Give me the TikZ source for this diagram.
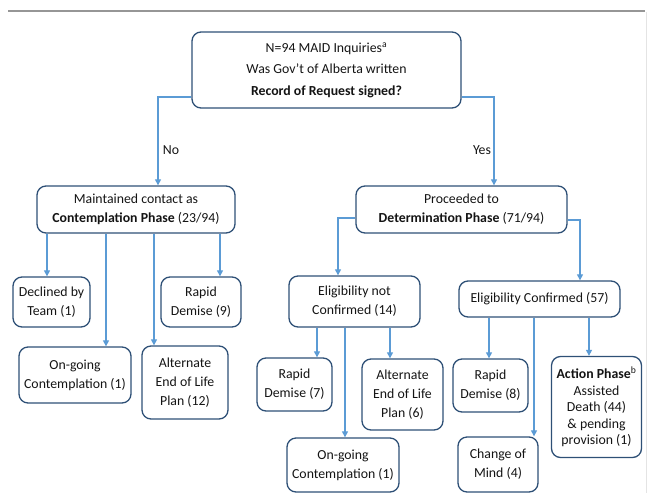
\documentclass[tikz,border=0pt]{standalone}
\usepackage{fontspec}
\setmainfont{Carlito}
\usetikzlibrary{arrows.meta}
\definecolor{boxc}{RGB}{46,80,118}
\definecolor{lnc}{RGB}{91,155,213}
\definecolor{txt}{RGB}{20,20,20}
\definecolor{rulec}{RGB}{150,150,150}
\definecolor{edgec}{RGB}{228,228,228}
\tikzset{
  box/.style={draw=boxc, line width=1.3pt, rounded corners=9pt, align=center, inner sep=0pt,
    text=txt, font=\fontsize{13.8}{19}\selectfont},
  conn/.style={draw=lnc, line width=1.1pt, -{Triangle[length=6pt,width=6pt]}},
  lab/.style={text=txt, font=\fontsize{13.8}{15}\selectfont, inner sep=0pt}
}
\begin{document}
\begin{tikzpicture}[x=1pt,y=-1pt]
\useasboundingbox (0,0) rectangle (650,493);
\draw[rulec, line width=2.5pt] (8,11) -- (645,11);
\draw[edgec, line width=0.8pt] (646,12) -- (646,493);

\node[box, minimum width=269pt, minimum height=76pt, font=\fontsize{13.8}{21.5}\selectfont] (top) at (326.5,70)
  {N=94 MAID Inquiries\textsuperscript{a}\\ Was Gov’t of Alberta written\\ \textbf{Record of Request signed?}};
\node[box, minimum width=198pt, minimum height=47pt] (cont) at (136,209.5)
  {Maintained contact as\\ \textbf{Contemplation Phase} (23/94)};
\node[box, minimum width=211pt, minimum height=47pt] (det) at (461.5,209.5)
  {Proceeded to\\ \textbf{Determination Phase} (71/94)};

\node[box, minimum width=77pt, minimum height=50pt] (decl) at (51.5,302) {Declined by\\ Team (1)};
\node[box, minimum width=80pt, minimum height=50pt] (rd9) at (201,302) {Rapid\\ Demise (9)};
\node[box, minimum width=112pt, minimum height=56pt] (og1) at (75,375) {On-going\\ Contemplation (1)};
\node[box, minimum width=86pt, minimum height=73pt] (alt12) at (185,382.5) {Alternate\\ End of Life\\ Plan (12)};

\node[box, minimum width=131pt, minimum height=51pt] (enc) at (354.5,301.5) {Eligibility not\\ Confirmed (14)};
\node[box, minimum width=161pt, minimum height=36pt] (ec) at (539.5,299) {Eligibility Confirmed (57)};

\node[box, minimum width=75pt, minimum height=53pt] (rd7) at (294.5,384.5) {Rapid\\ Demise (7)};
\node[box, minimum width=81pt, minimum height=71pt] (alt6) at (402.5,394.5) {Alternate\\ End of Life\\ Plan (6)};
\node[box, minimum width=112pt, minimum height=54pt] (og2) at (343,465) {On-going\\ Contemplation (1)};
\node[box, minimum width=75pt, minimum height=53pt] (rd8) at (490.5,385.5) {Rapid\\ Demise (8)};
\node[box, minimum width=80pt, minimum height=55pt] (cm) at (498,464.5) {Change of\\ Mind (4)};
\node[box, minimum width=90pt, minimum height=101pt, font=\fontsize{13.8}{16.5}\selectfont] (act) at (596.5,407)
  {\textbf{Action Phase}\textsuperscript{b}\\ Assisted\\ Death (44)\\ \& pending\\ provision (1)};

\coordinate (ly) at (0,97);
\draw[conn] (top.west |- ly) -| (cont.north -| 158,0);
\draw[conn] (top.east |- ly) -| (det.north -| 494,0);
\node[lab] (no) at (171,150) {No};
\node[lab] (yes) at (482,150) {Yes};

\draw[conn] (cont.south -| 47,0) -- (decl.north -| 47,0);
\draw[conn] (cont.south -| 106,0) -- (og1.north -| 106,0);
\draw[conn] (cont.south -| 154,0) -- (alt12.north -| 154,0);
\draw[conn] (cont.south -| 220,0) -- (rd9.north -| 220,0);

\draw[conn] (det.west |- 0,218) -| (enc.north -| 338,0);
\draw[conn] (det.east |- 0,220) -| (ec.north -| 580,0);

\draw[conn] (enc.south -| 317,0) -- (rd7.north -| 317,0);
\draw[conn] (enc.south -| 345,0) -- (og2.north -| 345,0);
\draw[conn] (enc.south -| 390,0) -- (alt6.north -| 390,0);

\draw[conn] (ec.south -| 489,0) -- (rd8.north -| 489,0);
\draw[conn] (ec.south -| 534,0) -- (cm.north -| 534,0);
\draw[conn] (ec.south -| 589,0) -- (act.north -| 589,0);
\end{tikzpicture}
\end{document}
